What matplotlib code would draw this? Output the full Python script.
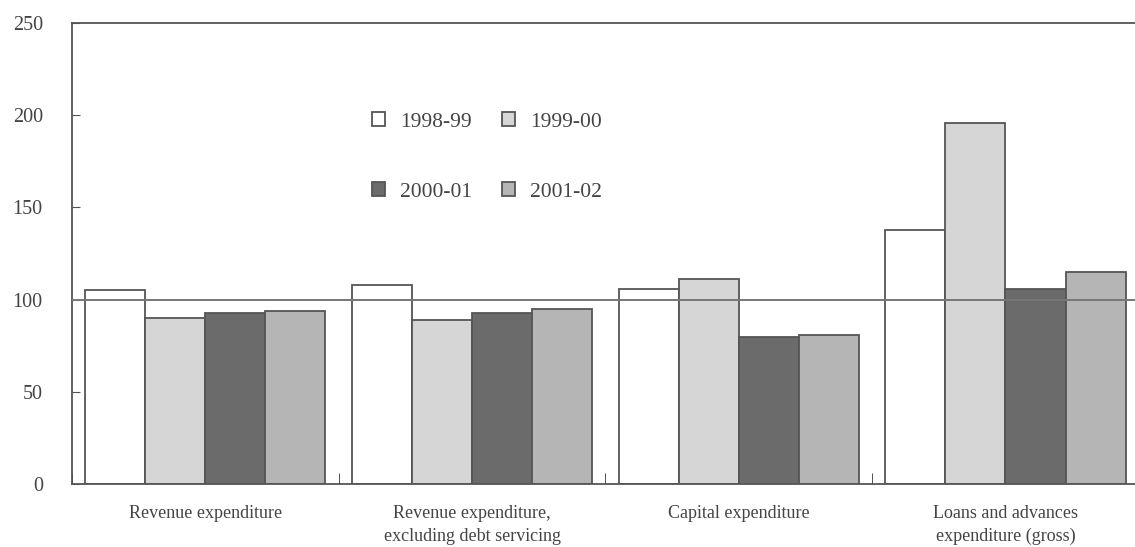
import matplotlib.pyplot as plt
import numpy as np
from matplotlib.patches import Patch

categories = ["Revenue expenditure",
              "Revenue expenditure,\nexcluding debt servicing",
              "Capital expenditure",
              "Loans and advances\nexpenditure (gross)"]
years = ["1998-99", "1999-00", "2000-01", "2001-02"]
v_1998 = [105, 108, 106, 138]
v_1999 = [90, 89, 111, 196]
v_2000 = [93, 93, 80, 106]
v_2001 = [94, 95, 81, 115]
series = [v_1998, v_1999, v_2000, v_2001]
colors = ["#ffffff", "#d6d6d6", "#6b6b6b", "#b5b5b5"]

plt.rcParams["font.family"] = ["Liberation Serif", "DejaVu Serif"]

fig = plt.figure(figsize=(11.35, 5.47), dpi=100)
ax = fig.add_axes([0.0634, 0.115, 0.94, 0.843])

x = np.arange(len(categories))
w = 0.225
for i, vals in enumerate(series):
    ax.bar(x - 0.45 + w * i, vals, width=w, align="edge", color=colors[i],
           edgecolor="#555555", linewidth=1.3, zorder=2)

ax.axhline(100, color="#777777", linewidth=1.4, zorder=3)

ax.set_xlim(-0.5, len(categories) - 0.5)
ax.set_ylim(0, 250)
ax.set_yticks([0, 50, 100, 150, 200, 250])
ax.tick_params(axis="y", direction="in", length=6, pad=21, labelsize=14.5,
               colors="#555555", labelcolor="#444444")
ax.set_xticks(x)
ax.set_xticklabels(categories, fontsize=13, color="#444444", linespacing=1.45)
ax.tick_params(axis="x", length=0, pad=15)
ax.set_xticks(np.arange(len(categories) + 1) - 0.5, minor=True)
ax.tick_params(axis="x", which="minor", direction="in", length=8, color="#333333")

for s in ["left", "bottom", "top"]:
    ax.spines[s].set_color("#555555")
    ax.spines[s].set_linewidth(1.3)
ax.spines["right"].set_visible(False)

handles = [Patch(facecolor=c, edgecolor="#555555", linewidth=1.3) for c in colors]
order = [0, 2, 1, 3]
ax.legend([handles[k] for k in order], [years[k] for k in order], ncol=2,
          loc="upper left", bbox_to_anchor=(0.263, 0.848), frameon=False,
          fontsize=15.5, handlelength=0.6, handleheight=0.6, handletextpad=0.7,
          labelspacing=2.35, columnspacing=1.4, labelcolor="#444444")

plt.savefig("out.png", dpi=100)
